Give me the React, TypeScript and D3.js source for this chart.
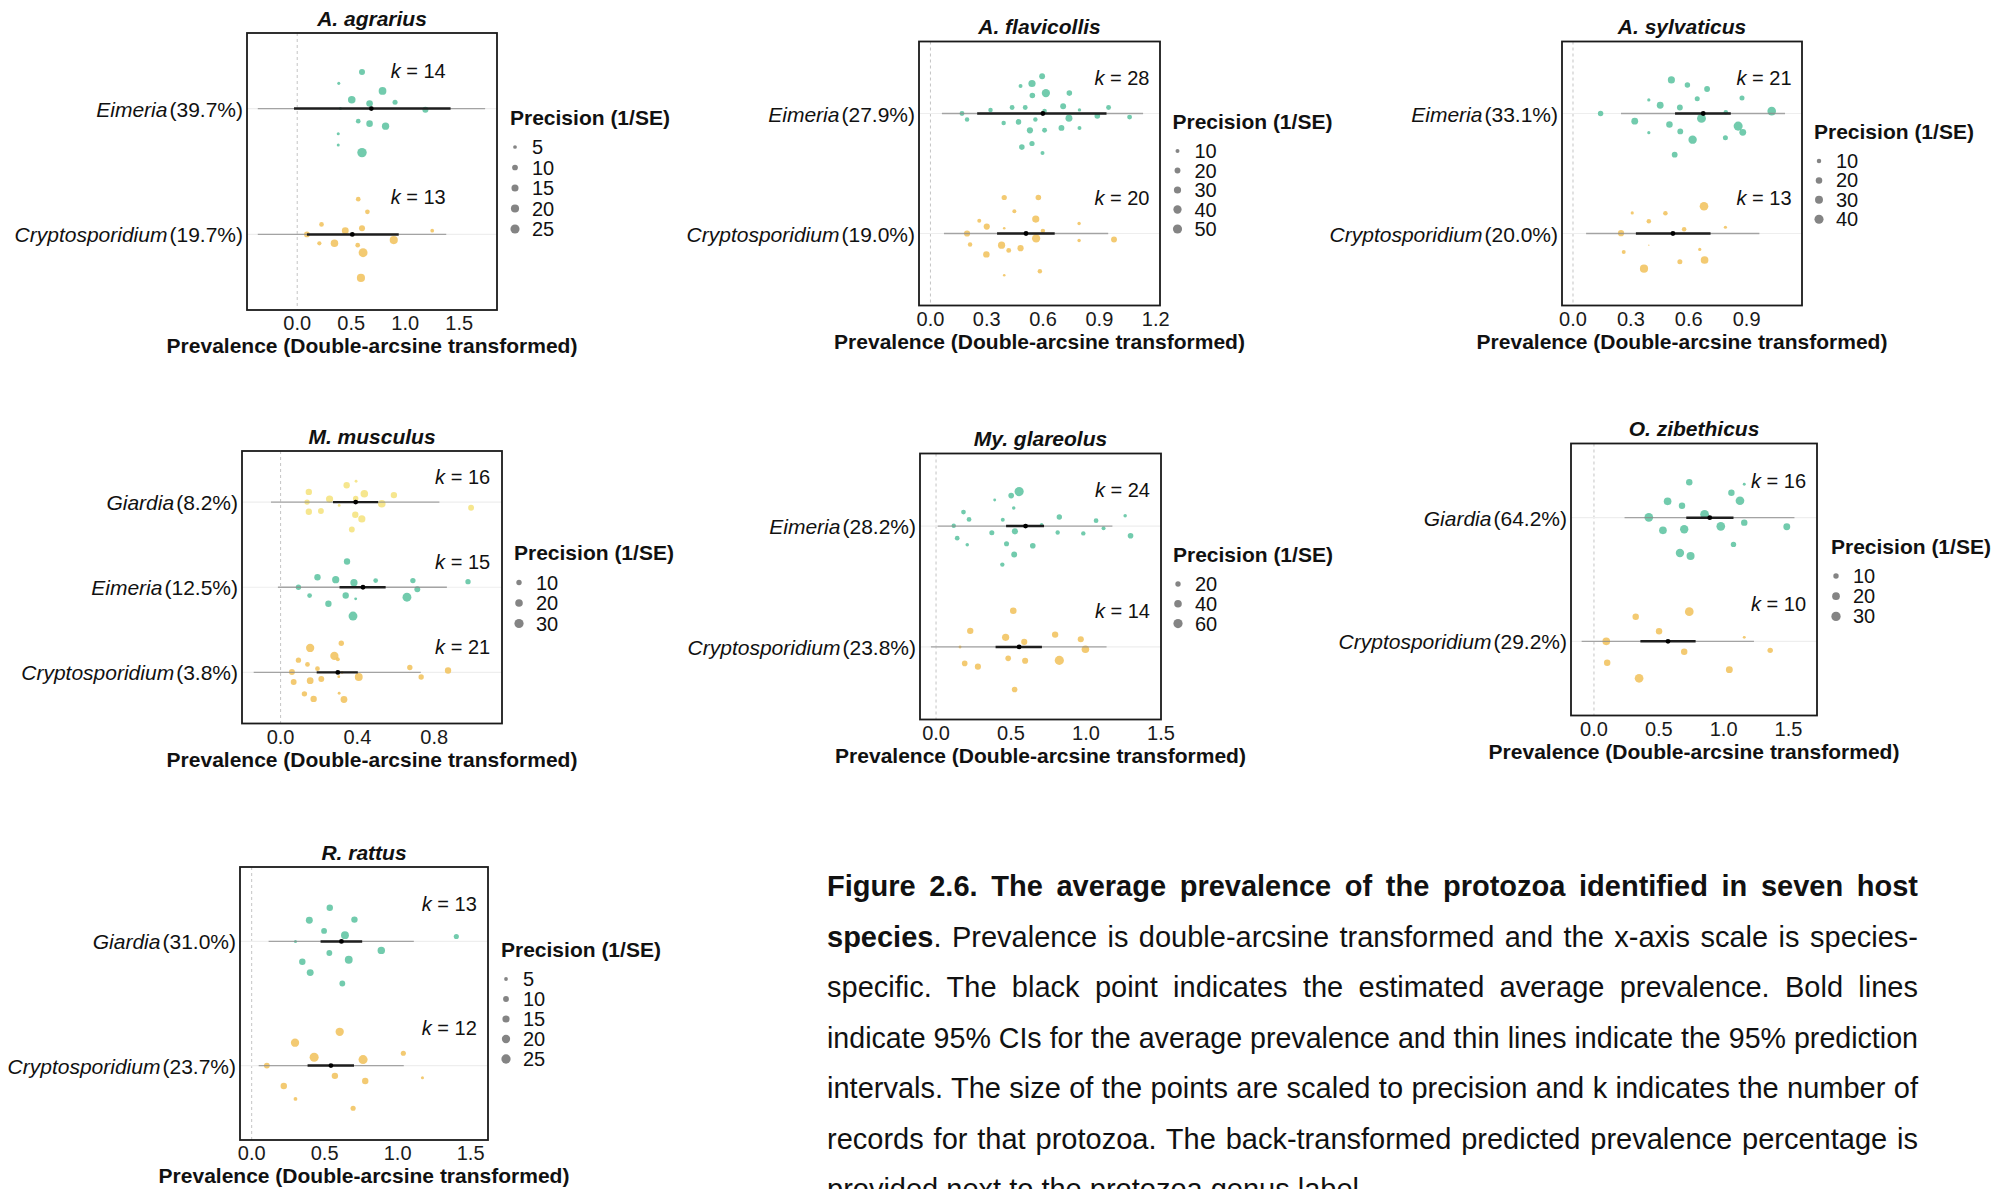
import React, { useEffect, useRef } from "react";
import * as d3 from "d3";

type Pt = [number, number, number]; // [transformed prevalence, vertical jitter (row units, + = down), precision 1/SE]

// ---------------- A. agrarius ----------------
const agrariusEimeria: Pt[] = [
  [0.6, -0.29, 11], [0.385, -0.2, 4], [0.79, -0.14, 18], [0.505, -0.07, 17], [0.67, -0.04, 13],
  [0.906, -0.05, 8], [1.187, 0.01, 11], [0.565, 0.1, 7], [0.67, 0.12, 13], [0.818, 0.14, 16],
  [0.38, 0.2, 4], [0.38, 0.29, 4], [0.6, 0.35, 27], [0.4, 0.0, 4],
];
const agrariusCrypto: Pt[] = [
  [0.565, -0.28, 7], [0.65, -0.18, 7], [0.225, -0.08, 7], [0.445, -0.03, 14], [0.6, -0.05, 11],
  [1.25, -0.03, 5], [0.09, 0.0, 10], [0.894, 0.045, 20], [0.205, 0.07, 6], [0.345, 0.07, 17],
  [0.56, 0.085, 7], [0.61, 0.145, 24], [0.59, 0.345, 20],
];

// ---------------- A. flavicollis ----------------
const flavicollisEimeria: Pt[] = [
  [0.595, -0.31, 20], [0.48, -0.23, 10], [0.541, -0.25, 30], [0.615, -0.17, 40], [0.74, -0.17, 18],
  [0.543, -0.15, 18], [0.435, -0.05, 14], [0.505, -0.05, 14], [0.32, -0.03, 12], [0.168, 0.0, 14],
  [0.608, -0.02, 12], [0.707, -0.06, 20], [0.794, -0.03, 8], [0.949, -0.05, 14], [0.195, 0.05, 12],
  [0.559, 0.05, 12], [0.738, 0.04, 28], [0.889, 0.02, 18], [1.061, 0.03, 14], [0.39, 0.08, 12],
  [0.469, 0.07, 18], [0.53, 0.14, 22], [0.608, 0.14, 14], [0.698, 0.12, 20], [0.794, 0.12, 10],
  [0.541, 0.25, 16], [0.487, 0.28, 18], [0.597, 0.33, 10],
];
const flavicollisCrypto: Pt[] = [
  [0.393, -0.3, 16], [0.575, -0.3, 18], [0.447, -0.185, 10], [0.26, -0.107, 10], [0.561, -0.12, 30],
  [0.3, -0.058, 22], [0.393, -0.044, 6], [0.599, -0.022, 12], [0.792, -0.083, 8], [0.195, 0.0, 22],
  [0.563, 0.041, 40], [0.978, 0.05, 20], [0.792, 0.058, 8], [0.211, 0.091, 12], [0.379, 0.097, 30],
  [0.48, 0.122, 22], [0.417, 0.141, 14], [0.298, 0.174, 24], [0.583, 0.315, 12], [0.393, 0.348, 6],
];

// ---------------- A. sylvaticus ----------------
const sylvaticusEimeria: Pt[] = [
  [0.51, -0.28, 24], [0.593, -0.238, 14], [0.695, -0.204, 16], [0.393, -0.113, 6], [0.644, -0.122, 12],
  [0.876, -0.13, 12], [0.452, -0.069, 22], [0.554, -0.05, 16], [0.143, 0.0, 14], [0.792, -0.01, 10],
  [1.03, -0.02, 36], [0.32, 0.064, 22], [0.666, 0.041, 38], [0.5, 0.091, 20], [0.856, 0.105, 40],
  [0.393, 0.16, 6], [0.556, 0.149, 16], [0.88, 0.157, 22], [0.79, 0.202, 12], [0.62, 0.218, 34],
  [0.527, 0.343, 16],
];
const sylvaticusCrypto: Pt[] = [
  [0.679, -0.227, 36], [0.307, -0.171, 6], [0.479, -0.168, 10], [0.393, -0.102, 10], [0.79, -0.052, 6],
  [0.576, -0.036, 10], [0.249, -0.003, 18], [0.393, 0.097, 4], [0.657, 0.133, 6], [0.263, 0.155, 8],
  [0.554, 0.235, 12], [0.682, 0.221, 28], [0.368, 0.293, 32],
];

// ---------------- M. musculus ----------------
const musculusGiardia: Pt[] = [
  [0.393, -0.245, 4], [0.344, -0.198, 14], [0.147, -0.12, 14], [0.436, -0.097, 20], [0.59, -0.082, 14],
  [0.255, -0.035, 18], [0.138, 0.0, 10], [0.391, -0.043, 10], [0.305, 0.039, 4], [0.527, 0.019, 20],
  [0.147, 0.113, 14], [0.21, 0.105, 12], [0.389, 0.148, 14], [0.423, 0.198, 18], [0.992, 0.066, 12],
  [0.371, 0.322, 12],
];
const musculusEimeria: Pt[] = [
  [0.346, -0.303, 14], [0.192, -0.117, 14], [0.287, -0.089, 18], [0.495, -0.078, 8], [0.689, -0.078, 10],
  [0.976, -0.066, 10], [0.382, -0.054, 18], [0.093, 0.0, 10], [0.712, 0.023, 12], [0.151, 0.097, 8],
  [0.339, 0.097, 14], [0.391, 0.136, 4], [0.658, 0.117, 28], [0.249, 0.194, 14], [0.377, 0.338, 28],
];
const musculusCrypto: Pt[] = [
  [0.316, -0.342, 10], [0.154, -0.287, 24], [0.28, -0.194, 24], [0.298, -0.155, 6], [0.093, -0.144, 10],
  [0.14, -0.093, 8], [0.192, -0.043, 8], [0.059, -0.004, 12], [0.673, -0.058, 10], [0.872, -0.023, 14],
  [0.407, 0.054, 22], [0.732, 0.054, 10], [0.068, 0.113, 12], [0.154, 0.097, 16], [0.212, 0.078, 12],
  [0.303, 0.05, 4], [0.124, 0.252, 10], [0.305, 0.245, 4], [0.172, 0.311, 14], [0.33, 0.318, 16],
  [0.32, 0.0, 4],
];

// ---------------- My. glareolus ----------------
const glareolusEimeria: Pt[] = [
  [0.554, -0.285, 60], [0.501, -0.252, 22], [0.391, -0.216, 8], [0.518, -0.15, 10], [0.183, -0.116, 16],
  [0.22, -0.055, 16], [0.445, -0.053, 12], [0.704, -0.011, 10], [0.822, -0.075, 20], [1.067, -0.044, 16],
  [1.261, -0.086, 10], [0.118, -0.003, 14], [1.117, 0.019, 12], [0.372, 0.055, 18], [0.526, 0.044, 26],
  [0.811, 0.053, 14], [0.982, 0.061, 14], [1.297, 0.08, 22], [0.141, 0.1, 16], [0.208, 0.155, 10],
  [0.47, 0.147, 18], [0.645, 0.163, 22], [0.521, 0.235, 24], [0.442, 0.319, 14],
];
const glareolusCrypto: Pt[] = [
  [0.515, -0.299, 30], [0.228, -0.133, 28], [0.464, -0.08, 36], [0.588, -0.042, 26], [0.794, -0.102, 28],
  [0.965, -0.064, 26], [0.16, 0.0, 8], [0.996, 0.019, 40], [0.481, 0.094, 22], [0.191, 0.136, 22],
  [0.279, 0.163, 26], [0.594, 0.114, 26], [0.822, 0.111, 60], [0.524, 0.352, 22],
];

// ---------------- O. zibethicus ----------------
const zibethicusGiardia: Pt[] = [
  [0.735, -0.286, 14], [1.159, -0.27, 4], [1.06, -0.202, 14], [0.568, -0.132, 20], [1.126, -0.137, 26],
  [0.679, -0.097, 14], [0.423, -0.003, 26], [0.853, -0.027, 26], [1.159, 0.04, 14], [1.487, 0.073, 16],
  [0.532, 0.102, 20], [0.696, 0.094, 24], [0.978, 0.07, 26], [1.076, 0.216, 10], [0.663, 0.286, 24],
  [0.745, 0.31, 22],
];
const zibethicusCrypto: Pt[] = [
  [0.735, -0.24, 26], [0.322, -0.199, 14], [0.502, -0.081, 14], [1.159, -0.032, 4], [0.095, 0.0, 20],
  [1.359, 0.073, 10], [0.696, 0.084, 14], [0.102, 0.173, 14], [1.044, 0.229, 16], [0.348, 0.299, 26],
];

// ---------------- R. rattus ----------------
const rattusGiardia: Pt[] = [
  [0.535, -0.272, 12], [0.395, -0.171, 14], [0.704, -0.176, 12], [0.496, -0.085, 10], [0.639, -0.051, 18],
  [1.402, -0.04, 8], [0.3, 0.0, 4], [0.888, 0.072, 16], [0.532, 0.093, 10], [0.665, 0.147, 18],
  [0.347, 0.163, 12], [0.401, 0.251, 14], [0.621, 0.339, 10],
];
const rattusCrypto: Pt[] = [
  [0.603, -0.272, 20], [0.297, -0.184, 20], [1.039, -0.099, 8], [0.428, -0.067, 24], [0.763, -0.048, 24],
  [0.104, 0.0, 10], [0.57, 0.083, 12], [0.778, 0.125, 12], [1.17, 0.099, 4], [0.22, 0.165, 12],
  [0.3, 0.269, 5], [0.695, 0.344, 8],
];

// Summary estimates: [estimate, CI low, CI high, PI low, PI high]
const agrariusSummary = [[0.686, -0.03, 1.42, -0.365, 1.74], [0.51, 0.09, 0.94, -0.365, 1.38]];
const flavicollisSummary = [[0.599, 0.249, 0.938, 0.061, 1.133], [0.509, 0.355, 0.662, 0.072, 0.947]];
const sylvaticusSummary = [[0.675, 0.529, 0.818, 0.249, 1.099], [0.518, 0.326, 0.713, 0.068, 0.966]];
const musculusSummary = [[0.391, 0.273, 0.508, -0.05, 0.827], [0.429, 0.307, 0.547, -0.014, 0.866], [0.298, 0.188, 0.402, -0.14, 0.73]];
const glareolusSummary = [[0.597, 0.467, 0.72, 0.011, 1.176], [0.554, 0.397, 0.706, -0.034, 1.137]];
const zibethicusSummary = [[0.893, 0.712, 1.076, 0.236, 1.546], [0.571, 0.358, 0.784, -0.095, 1.234]];
const rattusSummary = [[0.615, 0.472, 0.757, 0.116, 1.111], [0.543, 0.383, 0.701, 0.048, 1.042]];

const speciesTitles = ["A. agrarius", "A. flavicollis", "A. sylvaticus", "M. musculus", "My. glareolus", "O. zibethicus", "R. rattus"];
const protozoaNames = [
  ["Eimeria", "Cryptosporidium"],
  ["Eimeria", "Cryptosporidium"],
  ["Eimeria", "Cryptosporidium"],
  ["Giardia", "Eimeria", "Cryptosporidium"],
  ["Eimeria", "Cryptosporidium"],
  ["Giardia", "Cryptosporidium"],
  ["Giardia", "Cryptosporidium"],
];
const prevalenceLabels = [
  ["39.7%", "19.7%"], ["27.9%", "19.0%"], ["33.1%", "20.0%"], ["8.2%", "12.5%", "3.8%"],
  ["28.2%", "23.8%"], ["64.2%", "29.2%"], ["31.0%", "23.7%"],
];
const kCounts = [[14, 13], [28, 20], [21, 13], [16, 15, 21], [24, 14], [16, 10], [13, 12]];
const xDomains: [number, number][] = [
  [-0.465, 1.85], [-0.061, 1.223], [-0.057, 1.187], [-0.201, 1.153], [-0.107, 1.5], [-0.177, 1.72], [-0.08, 1.619],
];
const xTicks = [
  [0, 0.5, 1, 1.5], [0, 0.3, 0.6, 0.9, 1.2], [0, 0.3, 0.6, 0.9], [0, 0.4, 0.8],
  [0, 0.5, 1, 1.5], [0, 0.5, 1, 1.5], [0, 0.5, 1, 1.5],
];
const sizeBreaks = [[5, 10, 15, 20, 25], [10, 20, 30, 40, 50], [10, 20, 30, 40], [10, 20, 30], [20, 40, 60], [10, 20, 30], [5, 10, 15, 20, 25]];
const sizeDomains: [number, number][] = [[3, 28], [5, 55], [4, 45], [3, 33], [6, 66], [3, 32], [3, 27]];

const pointSets: Pt[][][] = [
  [agrariusEimeria, agrariusCrypto],
  [flavicollisEimeria, flavicollisCrypto],
  [sylvaticusEimeria, sylvaticusCrypto],
  [musculusGiardia, musculusEimeria, musculusCrypto],
  [glareolusEimeria, glareolusCrypto],
  [zibethicusGiardia, zibethicusCrypto],
  [rattusGiardia, rattusCrypto],
];
const summaries = [agrariusSummary, flavicollisSummary, sylvaticusSummary, musculusSummary, glareolusSummary, zibethicusSummary, rattusSummary];

// ---------------- layout (pixels) ----------------
const boxes = [
  { x0: 247, x1: 497, y0: 33, y1: 310 },
  { x0: 919, x1: 1160, y0: 41.5, y1: 305.5 },
  { x0: 1562, x1: 1802, y0: 41.5, y1: 305.5 },
  { x0: 242, x1: 502, y0: 451, y1: 723.5 },
  { x0: 920, x1: 1161, y0: 453.5, y1: 719.5 },
  { x0: 1571, x1: 1817, y0: 443.5, y1: 715.5 },
  { x0: 240, x1: 488, y0: 867, y1: 1140 },
];
const legends = [
  { x: 510, y: 117, step: 20.5 },
  { x: 1172.5, y: 121, step: 19.5 },
  { x: 1814, y: 131, step: 19.4 },
  { x: 514, y: 552.5, step: 20.5 },
  { x: 1173, y: 554, step: 19.8 },
  { x: 1831, y: 546, step: 20.2 },
  { x: 501, y: 949, step: 20 },
];

const captionLines: { t: string; b?: boolean }[][] = [
  [{ t: "Figure 2.6. The average prevalence of the protozoa identified in seven host", b: true }],
  [{ t: "species", b: true }, { t: ". Prevalence is double-arcsine transformed and the x-axis scale is species-" }],
  [{ t: "specific. The black point indicates the estimated average prevalence. Bold lines" }],
  [{ t: "indicate 95% CIs for the average prevalence and thin lines indicate the 95% prediction" }],
  [{ t: "intervals. The size of the points are scaled to precision and k indicates the number of" }],
  [{ t: "records for that protozoa. The back-transformed predicted prevalence percentage is" }],
  [{ t: "provided next to the protozoa genus label." }],
];

const FONT = '"Liberation Sans", Arial, Helvetica, sans-serif';
const COLOR_MAP: Record<string, string> = {
  Eimeria: "#5ec4a2",
  Cryptosporidium: "#f1c35e",
  Giardia: "#5ec4a2",
};
const MUSCULUS_GIARDIA = "#f5e37e";

function Panel({ i }: { i: number }) {
  const box = boxes[i];
  const names = protozoaNames[i];
  const n = names.length;
  const x = d3.scaleLinear().domain(xDomains[i]).range([box.x0, box.x1]);
  const y = d3.scaleLinear().domain([0.4, n + 0.6]).range([box.y1, box.y0]);
  const [pMin, pMax] = sizeDomains[i];
  const r = (v: number) => 0.7 + 4.1 * Math.sqrt(Math.max(0, Math.min(1, (v - pMin) / (pMax - pMin))));
  const maxYi = d3.max(pointSets[i].flat(), (d) => d[0]) as number;
  const cx = (box.x0 + box.x1) / 2;
  const clipId = `clip${i}`;
  const leg = legends[i];

  return (
    <g>
      <defs>
        <clipPath id={clipId}>
          <rect x={box.x0} y={box.y0} width={box.x1 - box.x0} height={box.y1 - box.y0} />
        </clipPath>
      </defs>
      <text x={cx} y={box.y0 - 15} textAnchor="middle" dominantBaseline="central"
        fontFamily={FONT} fontSize={21} fontWeight="bold" fontStyle="italic" fill="#111">
        {speciesTitles[i]}
      </text>
      <rect x={box.x0} y={box.y0} width={box.x1 - box.x0} height={box.y1 - box.y0} fill="#fff" />
      <g clipPath={`url(#${clipId})`}>
        <line x1={x(0)} x2={x(0)} y1={box.y0} y2={box.y1} stroke="#c4c4c4" strokeWidth={1} strokeDasharray="3,3" />
        {names.map((nm, gi) => {
          const idx = n - gi;
          return <line key={"g" + gi} x1={box.x0} x2={box.x1} y1={y(idx)} y2={y(idx)} stroke="#eeeeee" strokeWidth={1.2} />;
        })}
        {names.map((nm, gi) => {
          const idx = n - gi;
          const col = i === 3 && nm === "Giardia" ? MUSCULUS_GIARDIA : COLOR_MAP[nm];
          return pointSets[i][gi].map((d, pi) => (
            <circle key={`p${gi}-${pi}`} cx={x(d[0])} cy={y(idx - d[1])} r={r(d[2])} fill={col} fillOpacity={0.88} />
          ));
        })}
        {names.map((nm, gi) => {
          const idx = n - gi;
          const s = summaries[i][gi];
          const yy = y(idx);
          return (
            <g key={"s" + gi}>
              <line x1={x(s[3])} x2={x(s[4])} y1={yy} y2={yy} stroke="#8a8a8a" strokeOpacity={0.75} strokeWidth={1.3} />
              <line x1={x(s[1])} x2={x(s[2])} y1={yy} y2={yy} stroke="#1e1e1e" strokeWidth={2.4} />
              <circle cx={x(s[0])} cy={yy} r={2.4} fill="#000" />
            </g>
          );
        })}
      </g>
      {names.map((nm, gi) => {
        const idx = n - gi;
        return (
          <text key={"k" + gi} x={x(maxYi * 1.1)} y={y(idx + 0.3)} textAnchor="end" dominantBaseline="central"
            fontFamily={FONT} fontSize={20} fill="#111">
            <tspan fontStyle="italic">k</tspan>
            <tspan> = {kCounts[i][gi]}</tspan>
          </text>
        );
      })}
      <rect x={box.x0} y={box.y0} width={box.x1 - box.x0} height={box.y1 - box.y0} fill="none" stroke="#1a1a1a" strokeWidth={1.8} />
      {names.map((nm, gi) => {
        const idx = n - gi;
        return (
          <text key={"l" + gi} x={box.x0 - 4} y={y(idx)} textAnchor="end" dominantBaseline="central"
            fontFamily={FONT} fontSize={21} fill="#111">
            <tspan fontStyle="italic">{nm}</tspan>
            <tspan dx={2}>({prevalenceLabels[i][gi]})</tspan>
          </text>
        );
      })}
      {xTicks[i].map((t) => (
        <text key={"t" + t} x={x(t)} y={box.y1 + 13} textAnchor="middle" dominantBaseline="central"
          fontFamily={FONT} fontSize={20} fill="#1a1a1a">
          {d3.format(".1f")(t)}
        </text>
      ))}
      <text x={cx} y={box.y1 + 35.5} textAnchor="middle" dominantBaseline="central"
        fontFamily={FONT} fontSize={21} fontWeight="bold" fill="#111">
        Prevalence (Double-arcsine transformed)
      </text>
      <text x={leg.x} y={leg.y} dominantBaseline="central" fontFamily={FONT} fontSize={21} fontWeight="bold" fill="#111">
        Precision (1/SE)
      </text>
      {sizeBreaks[i].map((b, bi) => {
        const yy = leg.y + 30 + bi * leg.step;
        return (
          <g key={"lg" + b}>
            <circle cx={leg.x + 5} cy={yy} r={r(b)} fill="#777" fillOpacity={0.9} />
            <text x={leg.x + 22} y={yy} dominantBaseline="central" fontFamily={FONT} fontSize={20} fill="#111">
              {b}
            </text>
          </g>
        );
      })}
    </g>
  );
}

const CAP_X = 827;
const CAP_W = 1091;

export default function App() {
  const capRefs = useRef<(SVGTextElement | null)[]>([]);

  useEffect(() => {
    capRefs.current.forEach((el, li) => {
      if (!el || li === captionLines.length - 1) return;
      el.style.wordSpacing = "0px";
      el.removeAttribute("textLength");
      const natural = el.getComputedTextLength();
      const text = captionLines[li].map((s) => s.t).join("");
      const spaces = (text.match(/ /g) || []).length;
      if (natural < CAP_W && spaces > 0) {
        el.style.wordSpacing = `${(CAP_W - natural) / spaces}px`;
      } else if (natural > CAP_W) {
        el.setAttribute("textLength", String(CAP_W));
        el.setAttribute("lengthAdjust", "spacingAndGlyphs");
      }
    });
  }, []);

  return (
    <svg width={2008} height={1189} style={{ position: "absolute", left: 0, top: 0, background: "#fff" }}
      xmlns="http://www.w3.org/2000/svg">
      <rect x={0} y={0} width={2008} height={1189} fill="#fff" />
      {speciesTitles.map((_, i) => (
        <Panel key={i} i={i} />
      ))}
      {captionLines.map((line, li) => (
        <text key={"c" + li} ref={(el) => { capRefs.current[li] = el; }} x={CAP_X} y={896 + li * 50.5}
          fontFamily={FONT} fontSize={29} fill="#111">
          {line.map((seg, si) => (
            <tspan key={si} fontWeight={seg.b ? "bold" : "normal"}>{seg.t}</tspan>
          ))}
        </text>
      ))}
    </svg>
  );
}
